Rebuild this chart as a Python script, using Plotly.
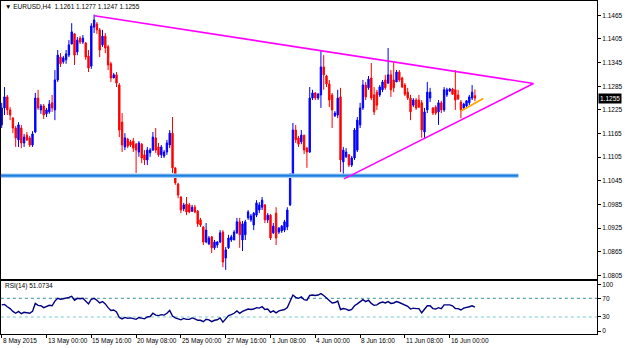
import plotly.graph_objects as go

bars = list(range(170))

opens = [1.1187,1.1230,1.1258,1.1225,1.1204,1.1179,1.1149,1.1179,1.1141,1.1161,
1.1154,1.1136,1.1169,1.1255,1.1225,1.1235,1.1215,1.1220,1.1243,1.1225,
1.1301,1.1359,1.1347,1.1352,1.1364,1.1392,1.1418,1.1372,1.1407,1.1397,
1.1395,1.1362,1.1336,1.1435,1.1443,1.1428,1.1390,1.1412,1.1385,1.1342,
1.1306,1.1314,1.1288,1.1194,1.1131,1.1151,1.1144,1.1146,1.1138,1.1118,
1.1138,1.1111,1.1098,1.1116,1.1123,1.1154,1.1131,1.1111,1.1108,1.1118,
1.1136,1.1166,1.1078,1.1037,1.1004,1.0974,1.0986,1.0984,1.0968,1.0978,
1.0968,1.0946,1.0928,1.0890,1.0885,1.0903,1.0875,1.0882,1.0890,1.0915,
1.0849,1.0875,1.0895,1.0895,1.0913,1.0941,1.0895,1.0908,1.0951,1.0946,
1.0933,1.0958,1.0971,1.0978,1.0984,1.0946,1.0958,1.0913,1.0963,1.0915,
1.0918,1.0920,1.0928,1.0984,1.1060,1.1174,1.1154,1.1144,1.1161,1.1128,
1.1118,1.1255,1.1268,1.1255,1.1263,1.1334,1.1311,1.1291,1.1263,1.1210,
1.1212,1.1258,1.1093,1.1106,1.1111,1.1085,1.1103,1.1123,1.1187,1.1230,
1.1288,1.1281,1.1306,1.1263,1.1270,1.1263,1.1276,1.1301,1.1293,1.1314,
1.1301,1.1296,1.1321,1.1306,1.1288,1.1270,1.1255,1.1237,1.1250,1.1250,
1.1243,1.1169,1.1225,1.1255,1.1230,1.1232,1.1220,1.1243,1.1225,1.1263,
1.1273,1.1278,1.1276,1.1263,1.1245,1.1230,1.1235,1.1243,1.1255,1.1261]

highs = [1.1243,1.1283,1.1263,1.1232,1.1207,1.1184,1.1194,1.1187,1.1164,1.1169,
1.1159,1.1171,1.1268,1.1276,1.1240,1.1240,1.1230,1.1250,1.1263,1.1326,
1.1377,1.1369,1.1362,1.1377,1.1402,1.1445,1.1420,1.1410,1.1412,1.1415,
1.1397,1.1377,1.1445,1.1467,1.1448,1.1433,1.1428,1.1420,1.1390,1.1347,
1.1319,1.1321,1.1293,1.1217,1.1166,1.1154,1.1149,1.1154,1.1141,1.1146,
1.1141,1.1123,1.1131,1.1128,1.1169,1.1179,1.1141,1.1136,1.1123,1.1149,
1.1174,1.1207,1.1078,1.1040,1.1006,1.0989,1.1004,1.0989,1.0984,1.0984,
1.0971,1.0951,1.0930,1.0938,1.0905,1.0905,1.0895,1.0892,1.0920,1.0920,
1.0877,1.0908,1.0908,1.0920,1.0951,1.0951,1.0943,1.0946,1.0971,1.0961,
1.0966,1.0996,1.0991,1.1004,1.0986,1.0963,1.0961,1.0938,1.0978,1.0928,
1.0933,1.0946,1.0978,1.1065,1.1192,1.1187,1.1159,1.1174,1.1161,1.1131,
1.1283,1.1276,1.1270,1.1268,1.1375,1.1364,1.1314,1.1301,1.1268,1.1222,
1.1276,1.1281,1.1131,1.1128,1.1113,1.1108,1.1179,1.1207,1.1243,1.1301,
1.1296,1.1311,1.1344,1.1283,1.1276,1.1288,1.1301,1.1314,1.1382,1.1326,
1.1344,1.1326,1.1326,1.1309,1.1293,1.1281,1.1263,1.1255,1.1255,1.1263,
1.1250,1.1230,1.1296,1.1281,1.1232,1.1237,1.1250,1.1248,1.1283,1.1281,
1.1281,1.1281,1.1326,1.1276,1.1250,1.1243,1.1250,1.1263,1.1288,1.1277]

lows = [1.1179,1.1212,1.1212,1.1199,1.1166,1.1131,1.1131,1.1128,1.1131,1.1146,
1.1131,1.1131,1.1166,1.1225,1.1215,1.1202,1.1207,1.1215,1.1220,1.1199,
1.1296,1.1334,1.1342,1.1342,1.1359,1.1392,1.1339,1.1364,1.1392,1.1392,
1.1352,1.1321,1.1329,1.1420,1.1418,1.1359,1.1385,1.1369,1.1326,1.1296,
1.1306,1.1283,1.1156,1.1118,1.1123,1.1128,1.1131,1.1118,1.1065,1.1106,
1.1090,1.1085,1.1085,1.1106,1.1121,1.1116,1.1106,1.1103,1.1103,1.1111,
1.1128,1.1065,1.1035,1.1001,1.0963,1.0968,1.0958,1.0963,1.0966,1.0963,
1.0928,1.0928,1.0882,1.0887,1.0882,1.0862,1.0870,1.0875,1.0887,1.0826,
1.0819,1.0872,1.0890,1.0895,1.0910,1.0875,1.0867,1.0895,1.0946,1.0941,
1.0920,1.0953,1.0963,1.0971,1.0938,1.0938,1.0895,1.0910,1.0882,1.0910,
1.0913,1.0915,1.0920,1.0981,1.1057,1.1141,1.1131,1.1138,1.1113,1.1078,
1.1116,1.1250,1.1250,1.1250,1.1230,1.1276,1.1283,1.1232,1.1179,1.1207,
1.1204,1.1067,1.1055,1.1103,1.1080,1.1080,1.1098,1.1118,1.1179,1.1225,
1.1250,1.1276,1.1250,1.1212,1.1225,1.1258,1.1270,1.1276,1.1291,1.1258,
1.1270,1.1296,1.1296,1.1281,1.1260,1.1250,1.1199,1.1232,1.1225,1.1230,
1.1154,1.1154,1.1217,1.1245,1.1212,1.1212,1.1187,1.1217,1.1220,1.1258,
1.1270,1.1263,1.1225,1.1250,1.1204,1.1225,1.1232,1.1237,1.1250,1.1247]

closes = [1.1230,1.1258,1.1225,1.1212,1.1179,1.1154,1.1187,1.1141,1.1156,1.1149,
1.1136,1.1164,1.1255,1.1230,1.1235,1.1212,1.1225,1.1240,1.1230,1.1301,
1.1364,1.1342,1.1357,1.1367,1.1390,1.1423,1.1364,1.1402,1.1397,1.1407,
1.1359,1.1331,1.1438,1.1453,1.1428,1.1377,1.1412,1.1382,1.1339,1.1306,
1.1314,1.1293,1.1174,1.1136,1.1154,1.1133,1.1136,1.1128,1.1123,1.1141,
1.1103,1.1098,1.1123,1.1123,1.1156,1.1123,1.1111,1.1131,1.1118,1.1141,
1.1166,1.1078,1.1040,1.1009,1.0971,1.0984,1.0966,1.0966,1.0978,1.0966,
1.0936,1.0933,1.0890,1.0920,1.0900,1.0875,1.0890,1.0890,1.0913,1.0839,
1.0870,1.0900,1.0903,1.0915,1.0941,1.0908,1.0936,1.0941,1.0966,1.0956,
1.0963,1.0989,1.0984,1.0996,1.0946,1.0958,1.0900,1.0930,1.0900,1.0925,
1.0930,1.0941,1.0971,1.1052,1.1174,1.1149,1.1138,1.1161,1.1123,1.1118,
1.1255,1.1268,1.1255,1.1265,1.1334,1.1314,1.1291,1.1250,1.1225,1.1217,
1.1255,1.1098,1.1123,1.1118,1.1085,1.1103,1.1174,1.1199,1.1230,1.1288,
1.1258,1.1303,1.1255,1.1220,1.1237,1.1283,1.1296,1.1281,1.1314,1.1276,
1.1281,1.1321,1.1301,1.1283,1.1265,1.1255,1.1220,1.1250,1.1230,1.1232,
1.1174,1.1220,1.1270,1.1270,1.1217,1.1217,1.1243,1.1225,1.1276,1.1276,
1.1278,1.1265,1.1250,1.1253,1.1225,1.1240,1.1248,1.1258,1.1270,1.1255]

rsi = [56,57,52,48,42,38,42,37,40,39,
38,42,59,55,54,50,52,55,54,64,
70,68,69,70,72,74,66,70,69,70,
64,58,68,70,66,60,63,58,50,44,
45,41,29,26,29,27,28,27,25,29,
27,26,30,31,38,34,33,35,34,38,
44,32,28,26,24,27,25,25,28,26,
23,23,20,25,24,20,23,24,28,19,
26,33,35,38,43,38,42,44,47,46,
47,50,49,52,46,47,40,43,39,43,
44,46,50,63,77,72,70,73,67,66,
76,77,76,77,80,76,71,66,60,61,
64,46,48,47,44,46,54,58,62,67,
63,66,59,55,56,60,62,60,63,59,
60,63,61,58,55,53,47,49,48,48,
39,46,54,54,48,47,50,48,56,56,
56,54,48,48,45,49,50,52,54,51.0734]

price_ticks = [1.0805,1.0865,1.0925,1.0985,1.1045,1.1105,1.1165,1.1225,1.1285,1.1345,1.1405,1.1465]
rsi_ticks = [0,30,70,100]
label_bars = [0,16,32,48,64,80,96,112,128,144,160]
label_text = ["8 May 2015","13 May 00:00","15 May 16:00","20 May 08:00","25 May 00:00",
              "27 May 16:00","1 Jun 08:00","4 Jun 00:00","8 Jun 16:00","11 Jun 08:00","16 Jun 00:00"]

upper_x = [33.1, 189.9]
upper_y = [1.1464, 1.1292]
lower_x = [122.25, 189.9]
lower_y = [1.1050, 1.1292]
support_x = [-0.3, 184.5]
support_y = [1.1058, 1.1058]
orange_x = [164, 172]
orange_y = [1.1222, 1.1254]
rsi_levels = [70, 30]

FONT = "Liberation Sans"
FS = 6.5

fig = go.Figure()
fig.add_trace(go.Candlestick(x=bars, open=opens, high=highs, low=lows, close=closes,
                             increasing=dict(line=dict(color="#0000FF", width=1), fillcolor="#0000FF"),
                             decreasing=dict(line=dict(color="#FF0000", width=1), fillcolor="#FF0000"),
                             whiskerwidth=0, xaxis="x", yaxis="y", hoverinfo="skip"))
fig.add_trace(go.Scatter(x=support_x, y=support_y, mode="lines",
                         line=dict(color="#A6D0F5", width=4.5), xaxis="x", yaxis="y", hoverinfo="skip"))
fig.add_trace(go.Scatter(x=support_x, y=support_y, mode="lines",
                         line=dict(color="#1E7FE0", width=2.2), xaxis="x", yaxis="y", hoverinfo="skip"))
fig.add_trace(go.Scatter(x=upper_x, y=upper_y, mode="lines",
                         line=dict(color="#FF00FF", width=1.6), xaxis="x", yaxis="y"))
fig.add_trace(go.Scatter(x=lower_x, y=lower_y, mode="lines",
                         line=dict(color="#FF00FF", width=1.6), xaxis="x", yaxis="y"))
fig.add_trace(go.Scatter(x=orange_x, y=orange_y, mode="lines",
                         line=dict(color="#FFA500", width=1.8), xaxis="x", yaxis="y"))

fig.add_trace(go.Scatter(x=[-0.3, 212.6], y=[rsi_levels[0]]*2, mode="lines",
                         line=dict(color="#3A9090", width=1, dash="dot"), xaxis="x2", yaxis="y2"))
fig.add_trace(go.Scatter(x=[-0.3, 212.6], y=[rsi_levels[1]]*2, mode="lines",
                         line=dict(color="#7CCACA", width=1.2, dash="dot"), xaxis="x2", yaxis="y2"))
fig.add_trace(go.Scatter(x=bars, y=rsi, mode="lines",
                         line=dict(color="#000080", width=1.4), xaxis="x2", yaxis="y2"))

ann = [
    dict(text="\u25bc EURUSD,H4  1.1261 1.1277 1.1247 1.1255", x=0.004, y=0.982, xref="paper", yref="paper",
         xanchor="left", yanchor="middle", showarrow=False, font=dict(family=FONT, size=FS, color="#000")),
    dict(text="RSI(14) 51.0734", x=0.004, y=0.144, xref="paper", yref="paper",
         xanchor="left", yanchor="middle", showarrow=False, font=dict(family=FONT, size=FS, color="#000")),
    dict(text="1.1255", x=1, y=closes[-1], xref="paper", yref="y", xanchor="left", yanchor="middle",
         xshift=1, showarrow=False, bgcolor="#000000", borderpad=1,
         font=dict(family=FONT, size=FS, color="#FFFFFF")),
]
for b, t in zip(label_bars, label_text):
    ann.append(dict(text=t, x=b, y=-0.021, xref="x2", yref="paper", xanchor="left", yanchor="middle",
                    xshift=-1, showarrow=False, font=dict(family=FONT, size=FS, color="#000")))

axis_common = dict(showgrid=False, zeroline=False, showline=True, linecolor="#000000", linewidth=1, mirror=True)

fig.update_layout(
    width=625, height=348,
    margin=dict(l=1, r=28, t=1, b=14),
    paper_bgcolor="#FFFFFF", plot_bgcolor="#FFFFFF",
    showlegend=False,
    font=dict(family=FONT, size=FS, color="#000"),
    xaxis=dict(domain=[0, 1], range=[-0.25, 212.6], anchor="y", showticklabels=False, ticks="",
               rangeslider=dict(visible=False), **axis_common),
    xaxis2=dict(domain=[0, 1], range=[-0.25, 212.6], anchor="y2", matches="x", showticklabels=False,
                ticks="outside", ticklen=3, tickcolor="#000", tickvals=label_bars, **axis_common),
    yaxis=dict(domain=[0.1652, 1], range=[1.0796, 1.15013], side="right", tickvals=price_ticks,
               tickformat=".4f", ticks="outside", ticklen=3, tickcolor="#000", anchor="x",
               tickfont=dict(family=FONT, size=FS, color="#000"), **axis_common),
    yaxis2=dict(domain=[0, 0.1577], range=[-6.4, 106], side="right", tickvals=rsi_ticks,
                ticks="outside", ticklen=3, tickcolor="#000", anchor="x2",
                tickfont=dict(family=FONT, size=FS, color="#000"), **axis_common),
    annotations=ann,
)

fig.write_html("out.html")
